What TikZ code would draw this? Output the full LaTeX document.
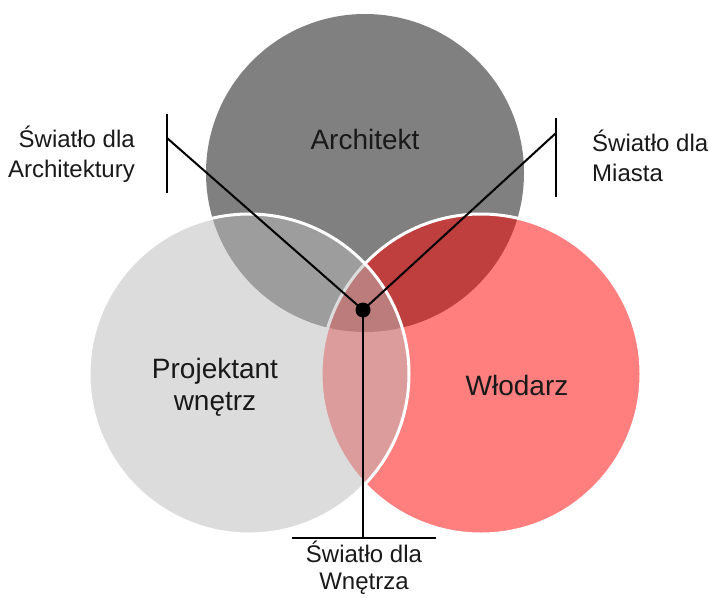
\documentclass[tikz,border=0pt]{standalone}
\usepackage{fontspec}
\setmainfont{Liberation Sans}
\begin{document}
\begin{tikzpicture}[x=1pt,y=-1pt,
  venn/.style={line width=3pt,draw=white,fill opacity=0.5},
  mainlbl/.style={font=\fontsize{28}{32}\selectfont,align=center,text=black!90},
  sidelbl/.style={font=\fontsize{24}{30}\selectfont,text=black!90,inner sep=0pt},
  conn/.style={line width=2pt,black},
  bar/.style={line width=2pt,black}]
\useasboundingbox (0,0) rectangle (709,597);
% circles
\fill[black!50] (365,173) circle[radius=159];
\path[venn,fill=red] (481,374) circle[radius=160];
\path[venn,fill=black!27] (249,374) circle[radius=160];
% main labels
\node[mainlbl] (arch) at (365,139) {Architekt};
\node[mainlbl] (proj) at (215,387) {Projektant\\wnętrz};
\node[mainlbl] (wlod) at (517,385) {Włodarz};
% connectors
\node[circle,fill=black,inner sep=0pt,minimum size=15pt] (dot) at (363,310) {};
\coordinate (lj) at (167,138);
\coordinate (lt) at (167,114);
\coordinate (lb) at (167,193);
\coordinate (rj) at (556,133);
\coordinate (rt) at (556,118);
\coordinate (rb) at (556,197);
\coordinate (bj) at (363,538);
\coordinate (bl) at (292,538);
\coordinate (br) at (436,538);
\draw[conn] (dot.center) -- (lj);
\draw[conn] (dot.center) -- (rj);
\draw[line width=1.4pt] (dot.center) -- (bj);
\draw[bar] (lt) -- (lb);
\draw[bar] (rt) -- (rb);
\draw[bar] (bl) -- (br);
% side labels
\node[sidelbl,align=right,anchor=east] (lA) at (135,154) {Światło dla\\Architektury};
\node[sidelbl,align=left,anchor=west] (lM) at (592,156) {Światło dla\\Miasta};
\node[sidelbl,align=center,anchor=north,font=\fontsize{24}{27}\selectfont] (lW) at (364,541) {Światło dla\\Wnętrza};
\end{tikzpicture}
\end{document}
